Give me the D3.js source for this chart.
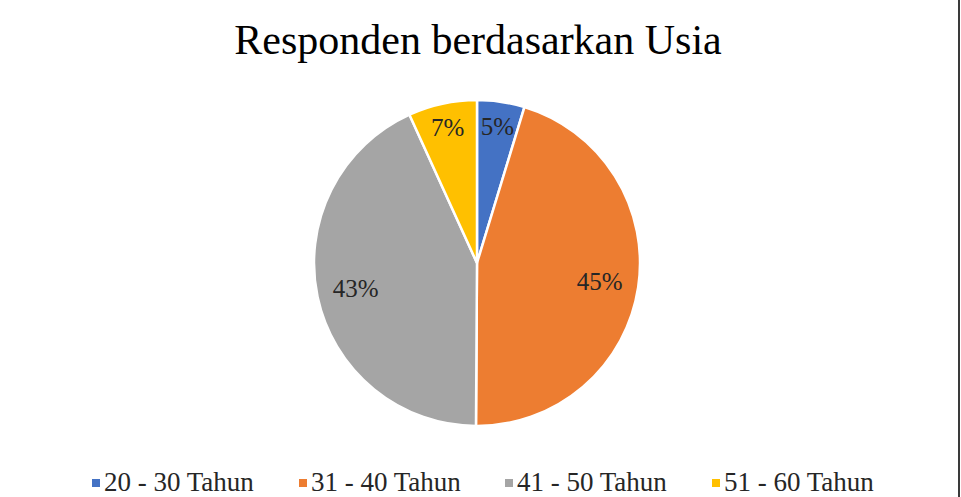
<!DOCTYPE html>
<html>
<head>
<meta charset="utf-8">
<script src="https://cdn.jsdelivr.net/npm/d3@7"></script>
<style>
  html, body { margin: 0; padding: 0; background: #fff; }
  svg { display: block; }
  svg text { font-family: "Liberation Serif", "Times New Roman", serif; }
</style>
</head>
<body>
<svg id="chart" width="961" height="497"></svg>
<script>
const categories = ["20 - 30 Tahun", "31 - 40 Tahun", "41 - 50 Tahun", "51 - 60 Tahun"];
const values = [4.7, 45.4, 43.1, 6.8];
const colors = ["#4472C4", "#ED7D31", "#A5A5A5", "#FFC000"];
const title = "Responden berdasarkan Usia";

const W = 961, H = 497;
const svg = d3.select("#chart");

svg.append("rect").attr("width", W).attr("height", H).attr("fill", "#fff");
// right border line
svg.append("line").attr("x1", 959).attr("x2", 959).attr("y1", 0).attr("y2", H)
  .attr("stroke", "#3a3a3a").attr("stroke-width", 2);

svg.append("text")
  .attr("x", 478).attr("y", 54)
  .attr("text-anchor", "middle")
  .attr("font-size", 42)
  .attr("fill", "#000")
  .text(title);

const cx = 477, cy = 263, R = 163;
const total = d3.sum(values);
const pie = d3.pie().sort(null).value(d => d)(values);
const arc = d3.arc().innerRadius(0).outerRadius(R);

const g = svg.append("g").attr("transform", `translate(${cx},${cy})`);
g.selectAll("path.slice").data(pie).join("path")
  .attr("class", "slice")
  .attr("d", arc)
  .attr("fill", (d, i) => colors[i])
  .attr("stroke", "#fff").attr("stroke-width", 2.5).attr("stroke-linejoin", "round");

g.selectAll("text.lbl").data(pie).join("text")
  .attr("class", "lbl")
  .attr("transform", d => {
    const span = d.endAngle - d.startAngle;
    const r = span < 0.6 ? 138 : 124;
    const a = (d.startAngle + d.endAngle) / 2;
    return `translate(${r * Math.sin(a)},${-r * Math.cos(a) + 8})`;
  })
  .attr("text-anchor", "middle")
  .attr("font-size", 25)
  .attr("fill", "#262626")
  .text(d => Math.round(d.value / total * 100) + "%");

// legend
const legendX = [92, 299, 505, 712];
const lg = svg.append("g");
categories.forEach((c, i) => {
  lg.append("rect").attr("x", legendX[i]).attr("y", 479).attr("width", 8).attr("height", 8)
    .attr("fill", colors[i]);
  lg.append("text").attr("x", legendX[i] + 12).attr("y", 491)
    .attr("font-size", 27).attr("fill", "#262626")
    .text(c);
});
</script>
</body>
</html>
